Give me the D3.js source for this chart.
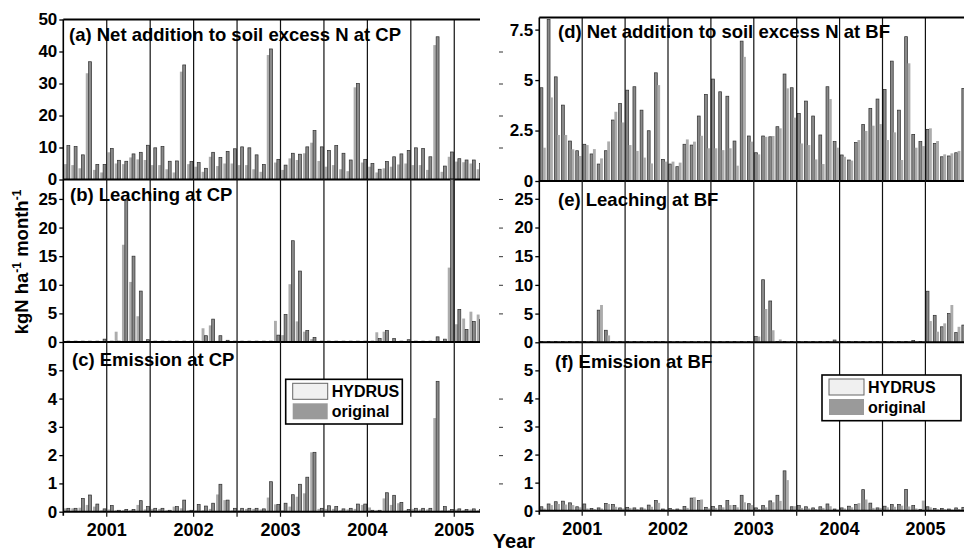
<!DOCTYPE html>
<html>
<head>
<meta charset="utf-8">
<script src="https://cdn.jsdelivr.net/npm/d3@7"></script>
<style>
  body { margin: 0; background: #fff; }
  text { font-family: "Liberation Sans", Arial, sans-serif; font-weight: bold; fill: #000; }
</style>
</head>
<body>
<div id="chart"></div>
<script>
// Monthly values, Jan 2001 .. Dec 2005 (60 months).
var yearLabels = ["2001", "2002", "2003", "2004", "2005"];
var seriesNames = ["HYDRUS", "original"];

// (a) Net addition to soil excess N at CP
var hydrusA = [10.6, 10.3, 7.7, 36.8, 4.7, 4.7, 9.7, 6.0, 5.7, 8.0, 8.5, 10.7,
  9.9, 10.3, 5.7, 5.8, 35.8, 5.6, 5.3, 3.5, 8.5, 6.9, 8.8, 9.6,
  10.2, 9.9, 7.7, 4.7, 40.8, 6.3, 4.5, 8.2, 7.9, 10.2, 15.3, 10.2,
  9.1, 10.6, 8.2, 6.1, 30.0, 6.3, 5.0, 3.2, 5.6, 7.1, 8.0, 9.1,
  9.9, 9.7, 7.1, 44.6, 4.2, 8.6, 6.5, 6.1, 6.1, 5.0, 5.5, 6.0];
var originalA = [4.8, 4.5, 3.5, 33.2, 3.0, 2.2, 8.5, 5.0, 4.8, 6.9, 6.3, 6.1,
  4.5, 4.5, 3.2, 2.2, 33.7, 4.8, 4.0, 2.4, 7.1, 4.2, 5.0, 5.0,
  4.5, 4.5, 3.2, 2.4, 38.9, 5.3, 3.0, 6.6, 6.1, 8.2, 11.5, 5.8,
  4.0, 4.5, 3.2, 2.6, 28.8, 5.3, 4.0, 2.2, 3.5, 4.0, 4.7, 5.0,
  4.5, 4.5, 3.0, 42.0, 2.4, 7.1, 5.6, 5.4, 5.0, 3.2, 4.0, 4.5];

// (b) Leaching at CP
var hydrusB = [0.15, 0.15, 0.15, 0.15, 0.15, 0.5, 0.15, 0.15, 24.7, 15.0, 8.9, 0.4,
  0.15, 0.15, 0.15, 0.15, 0.15, 0.15, 0.15, 1.1, 4.0, 1.1, 0.3, 0.15,
  0.15, 0.15, 0.15, 0.15, 0.15, 1.2, 4.8, 17.7, 12.4, 2.0, 0.8, 0.15,
  0.15, 0.15, 0.15, 0.15, 0.15, 0.15, 0.15, 0.6, 2.0, 0.6, 0.15, 0.4,
  0.15, 0.15, 0.15, 0.9, 0.5, 28.4, 5.7, 2.2, 3.6, 3.9, 3.5, 3.2];
var originalB = [0.15, 0.15, 0.15, 0.15, 0.15, 0.15, 0.15, 1.8, 17.0, 10.5, 4.5, 0.15,
  0.15, 0.15, 0.15, 0.15, 0.15, 0.15, 0.3, 2.4, 2.9, 0.2, 0.15, 0.15,
  0.15, 0.15, 0.15, 0.15, 0.15, 3.7, 1.2, 10.1, 3.6, 1.8, 0.5, 0.15,
  0.15, 0.15, 0.15, 0.15, 0.15, 0.15, 0.15, 1.7, 1.8, 0.15, 0.15, 0.15,
  0.15, 0.15, 0.15, 0.15, 0.15, 13.0, 3.1, 4.1, 5.3, 4.8, 4.5, 4.0];

// (c) Emission at CP
var hydrusC = [0.12, 0.12, 0.47, 0.59, 0.27, 0.1, 0.22, 0.05, 0.08, 0.08, 0.39, 0.18,
  0.12, 0.12, 0.05, 0.18, 0.41, 0.05, 0.26, 0.2, 0.3, 0.97, 0.41, 0.12,
  0.12, 0.12, 0.12, 0.1, 1.06, 0.26, 0.3, 0.6, 0.97, 1.22, 2.1, 0.12,
  0.21, 0.18, 0.1, 0.12, 0.27, 0.27, 0.05, 0.05, 0.67, 0.58, 0.33, 0.08,
  0.12, 0.12, 0.12, 4.61, 0.18, 0.08, 0.1, 0.08, 0.1, 0.08, 0.08, 0.08];
var originalC = [0.12, 0.12, 0.14, 0.24, 0.18, 0.05, 0.08, 0.05, 0.05, 0.05, 0.24, 0.08,
  0.1, 0.1, 0.05, 0.18, 0.12, 0.05, 0.05, 0.05, 0.1, 0.61, 0.41, 0.05,
  0.05, 0.1, 0.1, 0.08, 0.5, 0.26, 0.05, 0.18, 0.53, 0.65, 2.1, 0.1,
  0.1, 0.1, 0.05, 0.08, 0.1, 0.24, 0.15, 0.05, 0.47, 0.24, 0.3, 0.05,
  0.1, 0.08, 0.08, 3.31, 0.05, 0.05, 0.08, 0.05, 0.08, 0.05, 0.05, 0.05];

// (d) Net addition to soil excess N at BF
var hydrusD = [4.62, 8.0, 5.16, 3.76, 1.98, 1.5, 1.82, 1.34, 0.84, 1.5, 3.02, 3.84,
  4.5, 4.67, 3.51, 2.49, 5.36, 1.07, 0.84, 0.71, 1.82, 1.78, 3.22, 4.29,
  5.05, 4.42, 4.2, 1.98, 6.93, 2.23, 1.4, 2.23, 2.19, 2.69, 5.3, 4.62,
  3.35, 3.96, 3.22, 2.28, 4.67, 1.95, 1.29, 1.04, 1.9, 2.8, 3.6, 4.06,
  4.54, 5.94, 3.51, 7.15, 2.31, 1.95, 2.56, 1.86, 1.2, 1.24, 1.4, 4.59];
var originalD = [1.65, 4.14, 2.28, 2.28, 1.57, 1.24, 1.78, 1.58, 1.12, 1.96, 3.43, 2.9,
  1.78, 1.49, 1.16, 0.87, 4.75, 0.96, 0.96, 0.91, 2.06, 1.95, 2.24, 1.62,
  1.62, 1.53, 1.62, 0.76, 6.15, 1.95, 1.32, 2.19, 2.23, 2.61, 4.59, 3.14,
  1.86, 1.78, 1.07, 0.84, 4.06, 1.65, 1.2, 1.01, 2.03, 2.48, 2.74, 2.82,
  2.03, 2.41, 1.04, 5.83, 1.65, 1.73, 2.61, 1.98, 1.32, 1.37, 1.49, 1.5];

// (e) Leaching at BF
var hydrusE = [0.15, 0.15, 0.15, 0.15, 0.15, 0.15, 0.15, 0.15, 5.6, 2.1, 0.15, 0.15,
  0.15, 0.15, 0.15, 0.15, 0.15, 0.15, 0.15, 0.15, 0.15, 0.15, 0.15, 0.15,
  0.15, 0.15, 0.15, 0.15, 0.15, 0.15, 1.0, 10.9, 7.2, 0.15, 0.15, 0.15,
  0.15, 0.15, 0.15, 0.15, 0.15, 0.4, 0.15, 0.15, 0.15, 0.15, 0.15, 0.15,
  0.15, 0.15, 0.15, 0.15, 0.3, 0.15, 8.9, 4.7, 2.7, 5.0, 1.7, 3.0];
var originalE = [0.15, 0.15, 0.15, 0.15, 0.15, 0.15, 0.15, 0.15, 6.5, 1.2, 0.15, 0.15,
  0.15, 0.15, 0.15, 0.15, 0.15, 0.15, 0.15, 0.15, 0.15, 0.15, 0.15, 0.15,
  0.15, 0.15, 0.15, 0.15, 0.15, 0.15, 1.0, 5.8, 2.1, 0.5, 0.15, 0.15,
  0.15, 0.15, 0.15, 0.15, 0.15, 0.15, 0.15, 0.15, 0.15, 0.15, 0.15, 0.15,
  0.15, 0.15, 0.15, 0.15, 0.15, 0.15, 3.7, 1.85, 3.3, 6.5, 2.7, 1.5];

// (f) Emission at BF
var hydrusF = [0.14, 0.24, 0.32, 0.34, 0.28, 0.14, 0.24, 0.08, 0.1, 0.26, 0.22, 0.1,
  0.12, 0.1, 0.1, 0.2, 0.36, 0.06, 0.08, 0.06, 0.15, 0.45, 0.36, 0.12,
  0.15, 0.18, 0.36, 0.18, 0.55, 0.25, 0.1, 0.18, 0.35, 0.55, 1.42, 0.14,
  0.18, 0.14, 0.1, 0.14, 0.24, 0.06, 0.1, 0.16, 0.22, 0.75, 0.27, 0.1,
  0.16, 0.22, 0.22, 0.76, 0.18, 0.05, 0.14, 0.08, 0.08, 0.06, 0.1, 0.12];
var originalF = [0.08, 0.2, 0.24, 0.22, 0.2, 0.12, 0.08, 0.06, 0.08, 0.24, 0.14, 0.08,
  0.1, 0.06, 0.08, 0.14, 0.28, 0.04, 0.06, 0.05, 0.1, 0.48, 0.4, 0.08,
  0.1, 0.12, 0.2, 0.12, 0.3, 0.2, 0.06, 0.12, 0.3, 0.35, 1.09, 0.16,
  0.1, 0.08, 0.06, 0.1, 0.16, 0.04, 0.08, 0.12, 0.27, 0.4, 0.1, 0.1,
  0.12, 0.14, 0.18, 0.15, 0.08, 0.36, 0.12, 0.05, 0.05, 0.04, 0.06, 0.1];

var width = 964, height = 552;
var months = d3.range(60);

var svg = d3.select("#chart").append("svg")
  .attr("width", width)
  .attr("height", height);

// Two columns of panels; the left one is cut off at x = 480.
var columns = [
  {x0: 63.3, step: 7.24, right: 480, top: 19.5, bottom: 511.7, order: ["original", "hydrus"], tickRight: 499},
  {x0: 539.3, step: 7.15, right: 964, top: 17.5, bottom: 510.7, order: ["hydrus", "original"]}
];

var panels = [
  {col: 0, top: 19.5, base: 179.5, max: 50, ticks: [0, 10, 20, 30, 40, 50],
    title: "(a) Net addition to soil excess N at CP", tx: 69, ty: 41, hydrus: hydrusA, original: originalA},
  {col: 0, top: 179.5, base: 342, max: 28.4, ticks: [0, 5, 10, 15, 20, 25],
    title: "(b) Leaching at CP", tx: 70, ty: 201, hydrus: hydrusB, original: originalB},
  {col: 0, top: 342, base: 511.7, max: 6, ticks: [0, 1, 2, 3, 4, 5],
    title: "(c) Emission at CP", tx: 72, ty: 366, hydrus: hydrusC, original: originalC,
    legend: {x: 285.7, y: 379.3, w: 116.6, h: 44.7}},
  {col: 1, top: 17.5, base: 181, max: 8.1, ticks: [0, 2.5, 5, 7.5],
    title: "(d) Net addition to soil excess N at BF", tx: 558, ty: 38, hydrus: hydrusD, original: originalD},
  {col: 1, top: 181, base: 342.3, max: 28.1, ticks: [0, 5, 10, 15, 20, 25],
    title: "(e) Leaching at BF", tx: 558, ty: 206, hydrus: hydrusE, original: originalE},
  {col: 1, top: 342.3, base: 510.7, max: 6, ticks: [0, 1, 2, 3, 4, 5],
    title: "(f) Emission at BF", tx: 555, ty: 368, hydrus: hydrusF, original: originalF,
    legend: {x: 822, y: 375, w: 139, h: 45.7}}
];

var fillOf = {hydrus: "#8a8a8a", original: "#acacac"};

columns.forEach(function (c, ci) {
  c.x = d3.scaleBand()
    .domain(months)
    .range([c.x0, c.x0 + 60 * c.step])
    .paddingInner(0.2)
    .paddingOuter(0.1);
  c.sub = d3.scaleBand()
    .domain(c.order)
    .range([0, c.x.bandwidth()]);
  // month boundary -> pixel
  c.edge = function (m) { return c.x0 + m * c.step; };

  svg.append("clipPath").attr("id", "clip" + ci)
    .append("rect")
    .attr("x", 0).attr("y", 0)
    .attr("width", c.right).attr("height", height);
  c.g = svg.append("g").attr("clip-path", "url(#clip" + ci + ")");
});

panels.forEach(function (p) {
  var c = columns[p.col];
  var y = d3.scaleLinear().domain([0, p.max]).range([p.base, p.top]);
  var g = c.g.append("g");

  // Bars: one group per month, two bars in it.
  var grp = g.selectAll("g.month")
    .data(months)
    .enter().append("g")
    .attr("class", "month")
    .attr("transform", function (m) { return "translate(" + c.x(m) + ",0)"; });

  grp.selectAll("rect")
    .data(function (m) {
      return c.order.map(function (s) { return {s: s, v: p[s][m]}; });
    })
    .enter().append("rect")
    .attr("x", function (d) { return c.sub(d.s); })
    .attr("width", c.sub.bandwidth())
    .attr("y", function (d) { return y(d.v); })
    .attr("height", function (d) { return p.base - y(d.v); })
    .attr("fill", function (d) { return fillOf[d.s]; })
    .attr("stroke", function (d) { return d.s === "hydrus" ? "#2e2e2e" : "none"; })
    .attr("stroke-width", 0.7);

  // Baseline of the panel.
  g.append("line")
    .attr("x1", c.x0).attr("x2", c.right)
    .attr("y1", p.base).attr("y2", p.base)
    .attr("stroke", "#000").attr("stroke-width", 2);

  // Y axis.
  var ax = svg.append("g")
    .attr("transform", "translate(" + c.x0 + ",0)")
    .call(d3.axisLeft(y).tickValues(p.ticks).tickFormat(d3.format(""))
      .tickSize(4).tickSizeOuter(0).tickPadding(2));
  ax.select(".domain").remove();
  ax.selectAll("line").attr("stroke", "#000").attr("stroke-width", 1.3);
  ax.selectAll("text")
    .style("font-family", "'Liberation Sans', Arial, sans-serif")
    .style("font-weight", "bold")
    .style("font-size", "17px");

  // Stray ticks of the hidden right axis of the left column.
  if (c.tickRight) {
    var axr = svg.append("g")
      .attr("transform", "translate(" + c.tickRight + ",0)")
      .call(d3.axisRight(y).tickValues(p.ticks.filter(function (t) { return t > 0 && t < p.max - 1; }))
        .tickSize(4).tickFormat(""));
    axr.select(".domain").remove();
    axr.selectAll("line").attr("stroke", "#333");
  }

  svg.append("text")
    .attr("x", p.tx).attr("y", p.ty)
    .style("font-size", "18.5px")
    .text(p.title);

  if (p.legend) {
    var L = p.legend;
    var lg = svg.append("g").attr("transform", "translate(" + L.x + "," + L.y + ")");
    lg.append("rect")
      .attr("width", L.w).attr("height", L.h)
      .attr("fill", "#fff").attr("stroke", "#000").attr("stroke-width", 1.6);
    var sw = [
      {name: seriesNames[0], fill: "#f0f0f0", stroke: "#666"},
      {name: seriesNames[1], fill: "#9a9a9a", stroke: "none"}
    ];
    sw.forEach(function (s, i) {
      lg.append("rect")
        .attr("x", 7).attr("y", 4 + i * 20)
        .attr("width", 35).attr("height", 16)
        .attr("fill", s.fill).attr("stroke", s.stroke).attr("stroke-width", 1);
      lg.append("text")
        .attr("x", 46).attr("y", 18 + i * 20)
        .style("font-size", "16px")
        .text(s.name);
    });
  }
});

// Half-year divider lines, frame, year labels.
columns.forEach(function (c, ci) {
  var divs = d3.range(6, 60, 6);
  c.g.selectAll("line.div")
    .data(divs)
    .enter().append("line")
    .attr("class", "div")
    .attr("x1", c.edge).attr("x2", c.edge)
    .attr("y1", c.top).attr("y2", c.bottom + 5)
    .attr("stroke", "#111").attr("stroke-width", 1.2);

  c.g.append("line")
    .attr("x1", c.x0).attr("x2", c.right)
    .attr("y1", c.top).attr("y2", c.top)
    .attr("stroke", "#000").attr("stroke-width", 1.8);
  svg.append("line")
    .attr("x1", c.x0).attr("x2", c.x0)
    .attr("y1", c.top).attr("y2", c.bottom + 4)
    .attr("stroke", "#000").attr("stroke-width", 1.6);

  c.g.selectAll("text.year")
    .data(yearLabels)
    .enter().append("text")
    .attr("class", "year")
    .attr("x", function (d, i) { return c.edge(6 + 12 * i); })
    .attr("y", c.bottom + 24)
    .attr("text-anchor", "middle")
    .style("font-size", "18px")
    .text(function (d) { return d; });
});

svg.append("text")
  .attr("x", 514).attr("y", 548)
  .attr("text-anchor", "middle")
  .style("font-size", "20px")
  .text("Year");

var yl = svg.append("text")
  .attr("transform", "translate(28,262) rotate(-90)")
  .attr("text-anchor", "middle")
  .style("font-size", "18.5px");
yl.append("tspan").text("kgN ha");
yl.append("tspan").attr("dy", -7).style("font-size", "12px").text("-1");
yl.append("tspan").attr("dy", 7).text(" month");
yl.append("tspan").attr("dy", -7).style("font-size", "12px").text("-1");
</script>
</body>
</html>
